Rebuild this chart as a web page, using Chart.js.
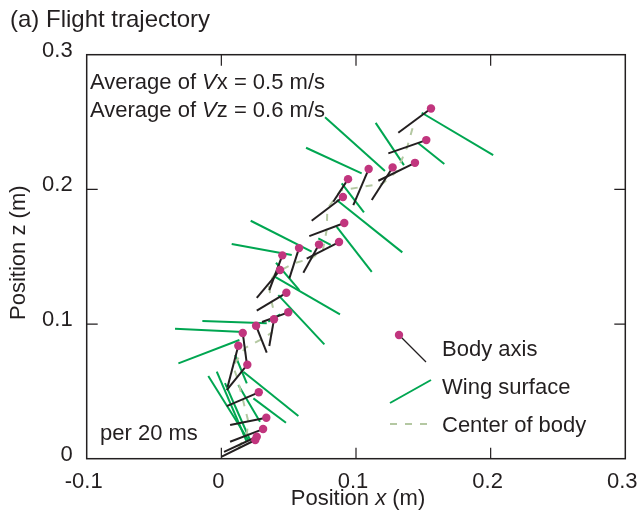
<!DOCTYPE html>
<html>
<head>
<meta charset="utf-8">
<script src="https://cdn.jsdelivr.net/npm/chart.js@4"></script>
<style>
html, body { margin: 0; padding: 0; background: #fff; }
#wrap { width: 641px; height: 515px; }
</style>
</head>
<body>
<div id="wrap"><canvas id="trajChart" width="641" height="515"></canvas></div>
<script>
// One entry per frame (20 ms apart), earliest first. Units: m
const headX = [0.0252, 0.0263, 0.0310, 0.0334, 0.0278, 0.0193, 0.0126, 0.0159, 0.0258, 0.0391, 0.0497, 0.0483, 0.0436, 0.0453, 0.0577, 0.0725, 0.0874, 0.0913, 0.0903, 0.0941, 0.1094, 0.1272, 0.1438, 0.1522, 0.1557];
const headZ = [0.0139, 0.0163, 0.0220, 0.0304, 0.0493, 0.0698, 0.0839, 0.0933, 0.0987, 0.1035, 0.1087, 0.1232, 0.1401, 0.1510, 0.1564, 0.1590, 0.1609, 0.1750, 0.1943, 0.2076, 0.2151, 0.2163, 0.2197, 0.2366, 0.2601];
const tailX = [0.0003, 0.0020, 0.0065, 0.0065, 0.0040, 0.0040, 0.0046, 0.0189, 0.0337, 0.0356, 0.0302, 0.0263, 0.0263, 0.0356, 0.0505, 0.0609, 0.0634, 0.0653, 0.0671, 0.0831, 0.0980, 0.1117, 0.1166, 0.1240, 0.1314];
const tailZ = [0.0015, 0.0050, 0.0126, 0.0250, 0.0391, 0.0510, 0.0532, 0.0708, 0.0787, 0.0837, 0.1015, 0.1099, 0.1195, 0.1252, 0.1339, 0.1381, 0.1486, 0.1653, 0.1767, 0.1908, 0.1883, 0.1921, 0.2064, 0.2267, 0.2420];

const centerX = [0.0128, 0.0142, 0.0188, 0.0200, 0.0159, 0.0117, 0.0086, 0.0174, 0.0298, 0.0374, 0.0400, 0.0373, 0.0350, 0.0405, 0.0541, 0.0667, 0.0754, 0.0783, 0.0787, 0.0886, 0.1037, 0.1195, 0.1302, 0.1381, 0.1436];
const centerZ = [0.0077, 0.0107, 0.0173, 0.0277, 0.0442, 0.0604, 0.0686, 0.0821, 0.0887, 0.0936, 0.1051, 0.1166, 0.1298, 0.1381, 0.1452, 0.1486, 0.1548, 0.1702, 0.1855, 0.1992, 0.2017, 0.2042, 0.2131, 0.2317, 0.2511];

const wingX1 = [0.0027, -0.0097, -0.0034, 0.0126, 0.0238, 0.0163, 0.0102, -0.0319, -0.0344, -0.0141, 0.0349, 0.0423, 0.0399, 0.0406, 0.0077, 0.0218, 0.0720, 0.0857, 0.0857, 0.0894, 0.0629, 0.0770, 0.1146, 0.1463, 0.1488];
const wingZ1 = [0.0561, 0.0614, 0.0646, 0.0547, 0.0448, 0.0646, 0.0770, 0.0708, 0.0965, 0.1022, 0.1017, 0.1215, 0.1351, 0.1455, 0.1594, 0.1767, 0.1636, 0.1722, 0.1921, 0.2045, 0.2309, 0.2535, 0.2494, 0.2342, 0.2569];
const wingX2 = [0.0213, 0.0200, 0.0189, 0.0287, 0.0480, 0.0572, 0.0189, 0.0134, 0.0163, 0.0337, 0.0436, 0.0765, 0.0881, 0.0579, 0.0523, 0.0671, 0.0812, 0.1117, 0.1344, 0.1059, 0.1042, 0.1215, 0.1356, 0.1656, 0.2019];
const wingZ2 = [0.0139, 0.0139, 0.0126, 0.0275, 0.0267, 0.0317, 0.0560, 0.0881, 0.0941, 0.1005, 0.1072, 0.0849, 0.1072, 0.1252, 0.1512, 0.1537, 0.1587, 0.1388, 0.1532, 0.1829, 0.2119, 0.2136, 0.2180, 0.2188, 0.2255];

const xTicks = [-0.1, 0, 0.1, 0.2, 0.3];
const xTickLabels = ['-0.1', '0', '0.1', '0.2', '0.3'];
const zTicks = [0, 0.1, 0.2, 0.3];
const zTickLabels = ['0', '0.1', '0.2', '0.3'];

const COLORS = {
    head: '#c1357e',
    body: '#231f20',
    wing: '#00a651',
    center: '#b4c8a2',
    ink: '#231f20'
};
const FAMILY = '"Liberation Sans", Arial, Helvetica, sans-serif';
const FONT = '22px ' + FAMILY;
const FONT_IT = 'italic 22px ' + FAMILY;
const CENTER_DASH = [7, 8];

// draw a line of text made of [text, italic] runs
function drawRuns(ctx, runs, x, y, align) {
    let total = 0;
    const widths = runs.map(([t, it]) => {
        ctx.font = it ? FONT_IT : FONT;
        const w = ctx.measureText(t).width;
        total += w;
        return w;
    });
    let cx = align === 'center' ? x - total / 2 : x;
    ctx.textAlign = 'left';
    runs.forEach(([t, it], i) => {
        ctx.font = it ? FONT_IT : FONT;
        ctx.fillText(t, cx, y);
        cx += widths[i];
    });
}

const datasets = [];

// magenta dots at the head end of each body axis
datasets.push({
    data: headX.map((x, i) => ({ x, y: headZ[i] })),
    showLine: false,
    pointRadius: 4.2,
    pointBackgroundColor: COLORS.head,
    pointBorderWidth: 0,
    order: 0
});

// body axis per frame
headX.forEach((_, i) => {
    datasets.push({
        data: [{ x: headX[i], y: headZ[i] }, { x: tailX[i], y: tailZ[i] }],
        showLine: true,
        borderColor: COLORS.body,
        borderWidth: 2,
        pointRadius: 0,
        order: 1
    });
});

// center of body path
datasets.push({
    data: centerX.map((x, i) => ({ x, y: centerZ[i] })),
    showLine: true,
    borderColor: COLORS.center,
    borderWidth: 2,
    borderDash: CENTER_DASH,
    pointRadius: 0,
    order: 2
});

// wing surface per frame
wingX1.forEach((_, i) => {
    datasets.push({
        data: [{ x: wingX1[i], y: wingZ1[i] }, { x: wingX2[i], y: wingZ2[i] }],
        showLine: true,
        borderColor: COLORS.wing,
        borderWidth: 2,
        pointRadius: 0,
        order: 3
    });
});

const frameAndText = {
    id: 'frameAndText',
    afterDraw(chart) {
        const { ctx, chartArea: a, scales } = chart;
        const sx = scales.x, sy = scales.y;
        const tick = 11;
        ctx.save();

        // box and inward ticks
        ctx.strokeStyle = COLORS.ink;
        ctx.lineWidth = 1.5;
        ctx.strokeRect(a.left, a.top, a.right - a.left, a.bottom - a.top);
        ctx.lineWidth = 1.2;
        ctx.beginPath();
        xTicks.slice(1, -1).forEach(v => {
            const px = sx.getPixelForValue(v);
            ctx.moveTo(px, a.bottom); ctx.lineTo(px, a.bottom - tick);
            ctx.moveTo(px, a.top); ctx.lineTo(px, a.top + tick);
        });
        zTicks.slice(1, -1).forEach(v => {
            const py = sy.getPixelForValue(v);
            ctx.moveTo(a.left, py); ctx.lineTo(a.left + tick, py);
            ctx.moveTo(a.right, py); ctx.lineTo(a.right - tick, py);
        });
        ctx.stroke();

        ctx.fillStyle = COLORS.ink;
        ctx.textBaseline = 'alphabetic';

        // panel title
        ctx.font = '24px ' + FAMILY;
        ctx.textAlign = 'left';
        ctx.fillText('(a) Flight trajectory', 10, 27);

        // axis titles
        drawRuns(ctx, [['Position ', false], ['x', true], [' (m)', false]], (a.left + a.right) / 2 + 2, 505, 'center');
        ctx.save();
        ctx.translate(25, (a.top + a.bottom) / 2 - 4);
        ctx.rotate(-Math.PI / 2);
        drawRuns(ctx, [['Position z (m)', false]], 0, 0, 'center');
        ctx.restore();

        // notes inside the box
        drawRuns(ctx, [['Average of ', false], ['V', true], ['x = 0.5 m/s', false]], 90, 89, 'left');
        drawRuns(ctx, [['Average of ', false], ['V', true], ['z = 0.6 m/s', false]], 90, 117, 'left');
        drawRuns(ctx, [['per 20 ms', false]], 100, 440, 'left');

        // legend
        ctx.lineCap = 'butt';
        ctx.strokeStyle = COLORS.body;
        ctx.lineWidth = 1.3;
        ctx.beginPath(); ctx.moveTo(399, 335); ctx.lineTo(426, 362); ctx.stroke();
        ctx.fillStyle = COLORS.head;
        ctx.beginPath(); ctx.arc(399, 335, 4.2, 0, Math.PI * 2); ctx.fill();

        ctx.strokeStyle = COLORS.wing;
        ctx.lineWidth = 2;
        ctx.beginPath(); ctx.moveTo(390, 403); ctx.lineTo(431, 380); ctx.stroke();

        ctx.strokeStyle = COLORS.center;
        ctx.setLineDash(CENTER_DASH);
        ctx.beginPath(); ctx.moveTo(390, 424); ctx.lineTo(432, 424); ctx.stroke();
        ctx.setLineDash([]);

        ctx.fillStyle = COLORS.ink;
        drawRuns(ctx, [['Body axis', false]], 442, 356, 'left');
        drawRuns(ctx, [['Wing surface', false]], 442, 394, 'left');
        drawRuns(ctx, [['Center of body', false]], 442, 432, 'left');

        ctx.restore();
    }
};

const tickFont = { family: FAMILY, size: 22 };

// keep the plot box fixed: no extra room for overhanging end labels
function fixPadding(s) {
    s.paddingLeft = 0;
    s.paddingRight = 0;
    s.paddingTop = 0;
    s.paddingBottom = 0;
}

new Chart(document.getElementById('trajChart').getContext('2d'), {
    type: 'scatter',
    data: { datasets },
    options: {
        responsive: false,
        animation: false,
        devicePixelRatio: 1,
        layout: { padding: { top: 54.7, right: 15.7, left: 0, bottom: 0 } },
        plugins: { legend: { display: false }, tooltip: { enabled: false } },
        elements: { line: { tension: 0 } },
        scales: {
            x: {
                type: 'linear',
                min: -0.1,
                max: 0.3,
                grid: { display: false },
                border: { display: false },
                afterBuildTicks: s => { s.ticks = xTicks.map(v => ({ value: v })); },
                afterFit: s => { s.height = 56.3; fixPadding(s); },
                ticks: {
                    callback: (v, i) => xTickLabels[i],
                    autoSkip: false,
                    maxRotation: 0,
                    padding: 2,
                    labelOffset: -3,
                    color: COLORS.ink,
                    font: tickFont
                }
            },
            y: {
                type: 'linear',
                min: 0,
                max: 0.3,
                grid: { display: false },
                border: { display: false },
                afterBuildTicks: s => { s.ticks = zTicks.map(v => ({ value: v })); },
                afterFit: s => { s.width = 86.7; fixPadding(s); },
                ticks: {
                    callback: (v, i) => zTickLabels[i],
                    autoSkip: false,
                    padding: 6,
                    labelOffset: -4,
                    color: COLORS.ink,
                    font: tickFont
                }
            }
        }
    },
    plugins: [frameAndText]
});
</script>
</body>
</html>
